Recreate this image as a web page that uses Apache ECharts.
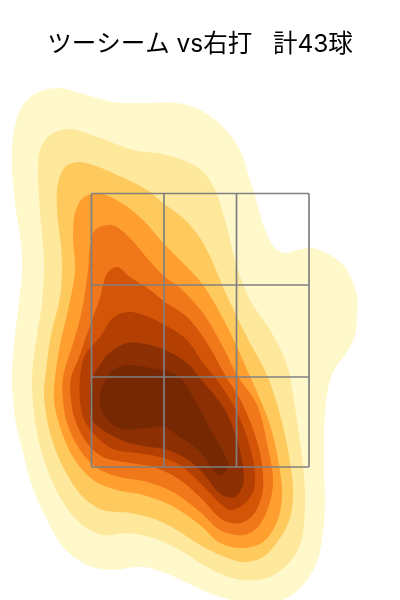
<!DOCTYPE html>
<html>
<head>
<meta charset="utf-8">
<title>ツーシーム vs右打</title>
<style>
html, body { margin: 0; padding: 0; background: #fff; }
#main { width: 400px; height: 600px; }
</style>
<script src="https://cdn.jsdelivr.net/npm/echarts@6/dist/echarts.min.js"></script>
</head>
<body>
<div id="main"></div>
<script>
var titleText = 'ツーシーム vs右打   計43球';

// density bands, outermost first
var levelColors = ['#fff8cb', '#fee89c', '#feca5e', '#fe9f30', '#f0781a', '#d45508', '#b33f03', '#8c3004', '#762803'];

var level1 = [[57,88],[87,95],[113,102],[143,103],[177,103],[200,110],[223,127],[240,150],[250,180],[257,203],[265,230],[275,248],[285,253],[297,250],[313,248],[333,257],[347,270],[357,297],[357,313],[355,335],[347,352],[333,372],[327,395],[324,435],[324,468],[325,502],[323,532],[317,562],[303,585],[287,598],[265,602],[245,602],[220,597],[200,589],[170,575],[143,567],[110,570],[87,565],[63,547],[47,520],[31,483],[23,452],[15,418],[12,378],[14,345],[18,310],[22,273],[21,243],[15,203],[12,163],[13,137],[20,110],[33,95]];
var level2 = [[68,129],[100,138],[133,150],[167,155],[200,169],[215,190],[225,220],[237,267],[250,300],[270,330],[287,365],[293,395],[298,428],[304,475],[305,508],[300,545],[287,565],[267,578],[243,580],[223,575],[200,563],[180,550],[153,538],[127,533],[103,535],[80,523],[60,497],[43,457],[35,420],[32,378],[37,335],[42,303],[44,260],[40,213],[38,170],[40,150],[50,135]];
var level3 = [[78,162],[93,165],[113,173],[147,190],[163,203],[183,218],[200,238],[213,263],[223,287],[237,317],[250,343],[267,375],[282,422],[290,462],[293,492],[290,518],[280,538],[263,557],[243,562],[220,555],[200,545],[180,532],[157,520],[130,513],[103,510],[83,497],[63,467],[50,433],[44,395],[46,370],[51,335],[60,297],[62,260],[57,210],[58,183],[65,167]];
var level4 = [[98,193],[120,202],[143,220],[165,245],[187,267],[203,285],[220,313],[237,347],[248,372],[257,392],[270,425],[279,465],[282,495],[277,522],[263,542],[243,548],[220,543],[200,525],[170,505],[143,495],[117,490],[93,480],[73,457],[60,427],[54,400],[55,378],[60,345],[68,310],[75,270],[73,237],[75,213],[83,198]];
var level5 = [[107,225],[115,226],[130,238],[147,258],[165,277],[180,288],[203,313],[223,347],[237,375],[257,405],[268,448],[273,482],[268,508],[257,528],[243,535],[220,530],[200,512],[173,492],[147,482],[120,477],[97,468],[80,450],[67,423],[63,400],[63,378],[75,337],[82,310],[88,270],[90,247],[95,230]];
var level6 = [[117,267],[130,277],[150,290],[165,302],[187,317],[207,343],[225,375],[243,405],[258,445],[263,475],[262,495],[253,515],[240,523],[223,520],[200,497],[177,478],[153,467],[130,463],[103,457],[87,443],[75,420],[71,400],[71,378],[78,360],[85,340],[93,317],[100,298],[103,285],[108,272]];
var level7 = [[128,312],[143,315],[165,325],[187,340],[203,363],[217,380],[237,412],[252,455],[255,478],[253,492],[243,505],[230,510],[222,505],[200,483],[180,465],[160,457],[137,453],[113,449],[93,433],[83,417],[80,400],[80,378],[85,355],[100,337],[113,318]];
var level8 = [[127,343],[150,345],[165,350],[187,363],[200,378],[225,410],[237,440],[243,467],[243,485],[235,497],[222,495],[200,470],[185,458],[165,449],[150,447],[130,443],[115,437],[100,428],[92,420],[90,400],[92,378],[100,365],[107,355]];
var level9 = [[128,365],[150,368],[177,375],[190,392],[207,423],[228,463],[227,470],[220,475],[215,472],[200,452],[177,435],[165,427],[147,428],[123,429],[107,420],[100,403],[101,390],[107,378],[113,370]];
var levels = [level1, level2, level3, level4, level5, level6, level7, level8, level9];

// strike zone edges
var zoneX = [91.5, 164, 236.5, 309];
var zoneY = [193.5, 285, 377, 467];

// smooth outline through the pixel points (centripetal catmull-rom)
function smoothClosed(pts) {
    var out = [], n = pts.length;
    function lerp(a, b, ta, tb, t) {
        var k = tb === ta ? 0 : (t - ta) / (tb - ta);
        return [a[0] + (b[0] - a[0]) * k, a[1] + (b[1] - a[1]) * k];
    }
    function knot(t, a, b) {
        return t + Math.sqrt(Math.hypot(b[0] - a[0], b[1] - a[1]));
    }
    for (var i = 0; i < n; i++) {
        var p0 = pts[(i - 1 + n) % n], p1 = pts[i], p2 = pts[(i + 1) % n], p3 = pts[(i + 2) % n];
        var t0 = 0, t1 = knot(t0, p0, p1), t2 = knot(t1, p1, p2), t3 = knot(t2, p2, p3);
        for (var s = 0; s < 10; s++) {
            var t = t1 + (t2 - t1) * s / 10;
            var a1 = lerp(p0, p1, t0, t1, t), a2 = lerp(p1, p2, t1, t2, t), a3 = lerp(p2, p3, t2, t3, t);
            var b1 = lerp(a1, a2, t0, t2, t), b2 = lerp(a2, a3, t1, t3, t);
            out.push(lerp(b1, b2, t1, t2, t));
        }
    }
    return out;
}

function bandSeries(points, color) {
    return {
        type: 'custom',
        coordinateSystem: 'cartesian2d',
        silent: true,
        clip: true,
        data: points,
        renderItem: function (params, api) {
            if (params.dataIndex !== 0) return null;
            return {
                type: 'polygon',
                shape: { points: smoothClosed(points.map(function (p) { return api.coord(p); })) },
                style: { fill: color }
            };
        }
    };
}

function zoneSeries() {
    var segs = [];
    zoneX.forEach(function (x) {
        segs.push([x, zoneY[0], x, zoneY[3]]);
    });
    zoneY.forEach(function (y) {
        segs.push([zoneX[0], y, zoneX[3], y]);
    });
    return {
        type: 'custom',
        coordinateSystem: 'cartesian2d',
        silent: true,
        z: 5,
        data: segs,
        renderItem: function (params, api) {
            var a = api.coord([api.value(0), api.value(1)]);
            var b = api.coord([api.value(2), api.value(3)]);
            return {
                type: 'line',
                shape: { x1: a[0], y1: a[1], x2: b[0], y2: b[1] },
                style: { stroke: '#808080', lineWidth: 1.7, fill: null }
            };
        }
    };
}

var myChart = echarts.init(document.getElementById('main'), null, { renderer: 'canvas' });
var series = levels.map(function (pts, i) { return bandSeries(pts, levelColors[i]); });
series.push(zoneSeries());

var option = {
    animation: false,
    title: {
        text: titleText,
        left: 'center',
        top: 27,
        textStyle: {
            fontFamily: 'Inter, "Noto Sans CJK JP"',
            fontSize: 24.5,
            fontWeight: 'normal',
            color: '#000'
        }
    },
    grid: { left: 0, right: 0, top: 0, bottom: 0 },
    xAxis: { type: 'value', min: 0, max: 400, show: false },
    yAxis: { type: 'value', min: 0, max: 600, inverse: true, show: false },
    series: series
};
myChart.setOption(option);
</script>
</body>
</html>
